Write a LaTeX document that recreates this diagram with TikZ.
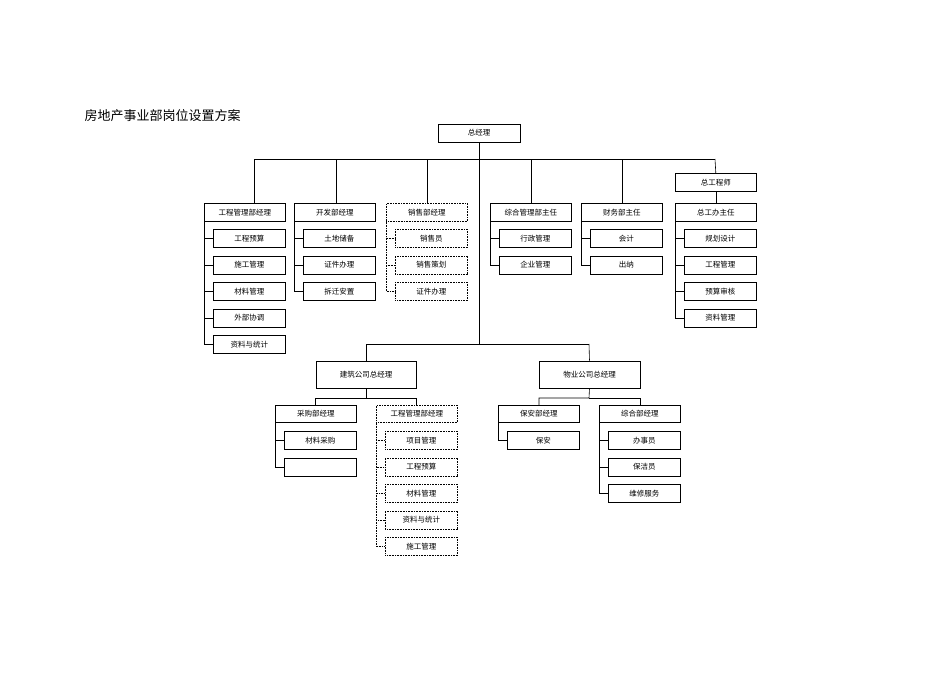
\documentclass[tikz,border=0pt]{standalone}
\usepackage{fontspec}
\newfontfamily\cjk{Noto Sans CJK SC}
\begin{document}
\begin{tikzpicture}[x=1pt,y=-1pt,
  bx/.style={draw,line width=0.6pt,minimum height=18pt,inner sep=0pt,font=\cjk\fontsize{7.5}{8}\selectfont},
  dbx/.style={bx,densely dotted},
  ln/.style={line width=0.6pt},
  dln/.style={ln,densely dotted}]
\useasboundingbox (0,0) rectangle (950,672);
\node[anchor=west,font=\cjk\fontsize{13}{14}\selectfont] (title) at (81,116) {房地产事业部岗位设置方案};
\node[bx,minimum width=82pt] (gm) at (479,133) {总经理};
% top columns: name, left x, text, drop x, style
\newcommand\colbox[5]{\node[#5,minimum width=81pt,anchor=north west] (#1) at (#2,203) {#3};}
\colbox{c1}{204}{工程管理部经理}{254}{bx}
\colbox{c2}{294}{开发部经理}{336}{bx}
\colbox{c3}{386}{销售部经理}{427}{dbx}
\colbox{c4}{490}{综合管理部主任}{531}{bx}
\colbox{c5}{581}{财务部主任}{622}{bx}
\colbox{c6}{675}{总工办主任}{715}{bx}
\node[bx,minimum width=81pt,anchor=north west] (ce) at (675,173) {总工程师};
\coordinate (b1) at (254,159); \coordinate (b6) at (715,159);
\draw[ln] (b1) -- (b6);
\draw[ln] (gm.south) -- (479,344);
\draw[ln] (b1) -- (254,203);
\draw[ln] (336,159) -- (336,203);
\draw[ln] (427,159) -- (427,203);
\draw[ln] (531,159) -- (531,203);
\draw[ln] (622,159) -- (622,203);
\draw[ln] (b6) -- (ce.north);
\draw[ln] (ce.south) -- (c6.north);
% children macro: parent, spine x, list, style, line style
\newcommand\kids[5]{%
  \foreach \t [count=\i] in {#3} {
    \node[#4,minimum width=72pt,anchor=north west] (#1k\i) at (#2+9,{#1y+26.5*(\i-1)+8}) {\t};
    \draw[#5] (#2,{#1y+26.5*(\i-1)+17}) -| (#1.south west);
    \draw[#5] (#2,{#1y+26.5*(\i-1)+17}) -- (#1k\i.west);
  }}
\def\cIy{221}\def\cIIy{221}
\foreach \p/\x/\l/\s/\ls in {
  c1/204/{工程预算,施工管理,材料管理,外部协调,资料与统计}/bx/ln,
  c2/294/{土地储备,证件办理,拆迁安置}/bx/ln,
  c3/386/{销售员,销售策划,证件办理}/dbx/dln,
  c4/490/{行政管理,企业管理}/bx/ln,
  c5/581/{会计,出纳}/bx/ln,
  c6/675/{规划设计,工程管理,预算审核,资料管理}/bx/ln}{
  \foreach \t [count=\i] in \l {
    \node[\s,minimum width=72pt,anchor=north west] (\p k\i) at (\x+9,{221+26.5*(\i-1)+8}) {\t};
    \draw[\ls] (\p.south west) |- (\p k\i.west);
  }
}
% lower part
\draw[ln] (366,344) -- (589,344);
\node[bx,minimum width=100pt,minimum height=27pt] (jz) at (366,374.5) {建筑公司总经理};
\node[bx,minimum width=101pt,minimum height=27pt] (wy) at (589.5,374.5) {物业公司总经理};
\draw[ln] (366,344) -- (jz.north);
\draw[ln] (589,344) -- (wy.north);
\node[bx,minimum width=81pt,anchor=north west,minimum height=17pt] (cg) at (275,405) {采购部经理};
\node[dbx,minimum width=81pt,anchor=north west,minimum height=17pt] (gc) at (376,405) {工程管理部经理};
\node[bx,minimum width=81pt,anchor=north west,minimum height=17pt] (ba) at (498,405) {保安部经理};
\node[bx,minimum width=81pt,anchor=north west,minimum height=17pt] (zh) at (599,405) {综合部经理};
\draw[ln] (jz.south) -- (366,398) -- (315,398) -- (315,405);
\draw[ln] (366,398) -- (416,398) -- (416,405);
\draw[ln] (wy.south) -- (589,398) -- (539,398) -- (539,405);
\draw[ln] (589,398) -- (640,398) -- (640,405);
\foreach \p/\x/\l/\s/\ls in {
  cg/275/{材料采购,{}}/bx/ln,
  gc/376/{项目管理,工程预算,材料管理,资料与统计,施工管理}/dbx/dln,
  ba/498/{保安}/bx/ln,
  zh/599/{办事员,保洁员,维修服务}/bx/ln}{
  \foreach \t [count=\i] in \l {
    \node[\s,minimum width=72pt,anchor=north west] (\p k\i) at (\x+9,{422+26.5*(\i-1)+9}) {\t};
    \draw[\ls] (\p.south west) |- (\p k\i.west);
  }
}
\end{tikzpicture}
\end{document}
